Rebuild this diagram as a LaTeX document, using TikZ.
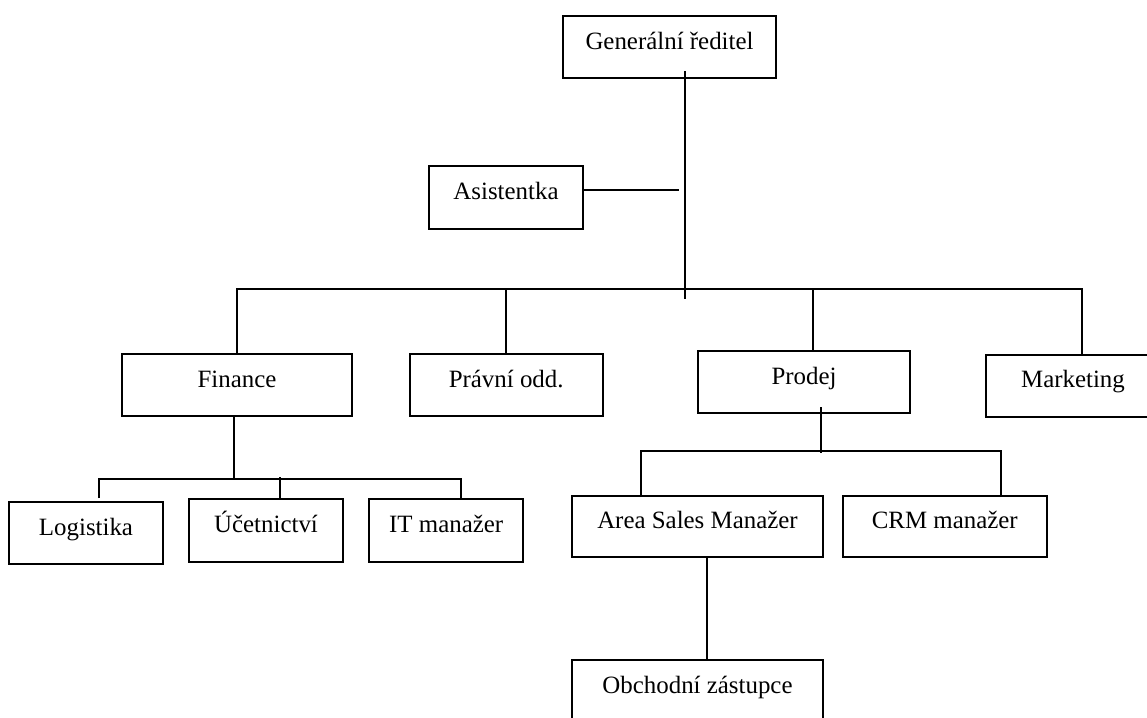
\documentclass[tikz,border=0pt]{standalone}
\usepackage{fontspec}
\setmainfont{Liberation Serif}
\usepackage{tikz}
\usetikzlibrary{positioning}
\usetikzlibrary{calc}

\begin{document}
\begin{tikzpicture}[x=0.5pt,y=-0.5pt]
	\path[use as bounding box,clip] (0,0) rectangle (1147,718);

	\begin{scope}[every node/.style={draw,line width=1pt,rectangle,inner sep=0pt,
	              text height=9pt,text depth=7pt,font=\fontsize{12.45}{15}\selectfont}]
	    \node (GR) [minimum width=106.5pt,minimum height=31.25pt] at (669.5,47) {Generální ředitel};
	    \node (AS) [minimum width=77pt,minimum height=31.5pt] at (506,197.5) {Asistentka};
	    \node (FIN) [minimum width=115.3pt,minimum height=31pt] at (237,385) {Finance};
	    \node (PRAV) [minimum width=96.5pt,minimum height=31pt] at (506.2,385) {Právní odd.};
	    \node (PROD) [minimum width=105.7pt,minimum height=31.25pt] at (804,382) {Prodej};
	    \node (MKT) [minimum width=87pt,minimum height=31pt] at (1073,385.7) {Marketing};
	    \node (LOG) [minimum width=77pt,minimum height=31pt] at (86,533) {Logistika};
	    \node (UCT) [minimum width=77pt,minimum height=31.3pt] at (266,530.3) {Účetnictví};
	    \node (IT) [minimum width=77pt,minimum height=31.5pt] at (446.2,530.5) {IT manažer};
	    \node (ASM) [minimum width=125.2pt,minimum height=30.7pt] at (697.5,526.7) {Area Sales Manažer};
	    \node (CRM) [minimum width=102pt,minimum height=30.7pt] at (944.8,526.7) {CRM manažer};
	    \node (OBCH) [minimum width=125.2pt,minimum height=31pt] at (697.5,691) {Obchodní zástupce};
	\end{scope}

	\begin{scope}[line width=1pt]
	    \coordinate (hub) at (685,289);
	    \coordinate (asx) at (679,190);
	    \coordinate (finhub) at (234,479);
	    \coordinate (uctop) at (280,476.5);
	    \coordinate (prodhub) at (821,450.7);

	    \draw ([yshift=4pt]GR.south -| hub) -- ([yshift=-5pt]hub);
	    \draw (AS.east |- asx) -- (asx);
	    \draw (FIN.north) |- (hub);
	    \draw ([xshift=4.65pt]MKT.north) |- (hub);
	    \draw (PRAV.north) -- (PRAV.north |- hub);
	    \draw ([xshift=4.65pt]PROD.north) -- ([xshift=4.65pt]PROD.north |- hub);

	    \draw (finhub |- FIN.south) -- (finhub);
	    \draw ([xshift=6.5pt,yshift=1.5pt]LOG.north) |- (finhub);
	    \draw ([xshift=7.25pt]IT.north) |- (finhub);
	    \draw (uctop |- UCT.north) -- (uctop);

	    \draw ([yshift=3.5pt]PROD.south -| prodhub) -- ([yshift=-1pt]prodhub);
	    \draw ([xshift=-28.4pt,yshift=-1pt]ASM.north) |- (prodhub);
	    \draw ([xshift=28.1pt,yshift=-1pt]CRM.north) |- (prodhub);
	    \draw ([xshift=4.9pt]ASM.south) -- ([xshift=4.9pt]OBCH.north);
	\end{scope}
\end{tikzpicture}
\end{document}
